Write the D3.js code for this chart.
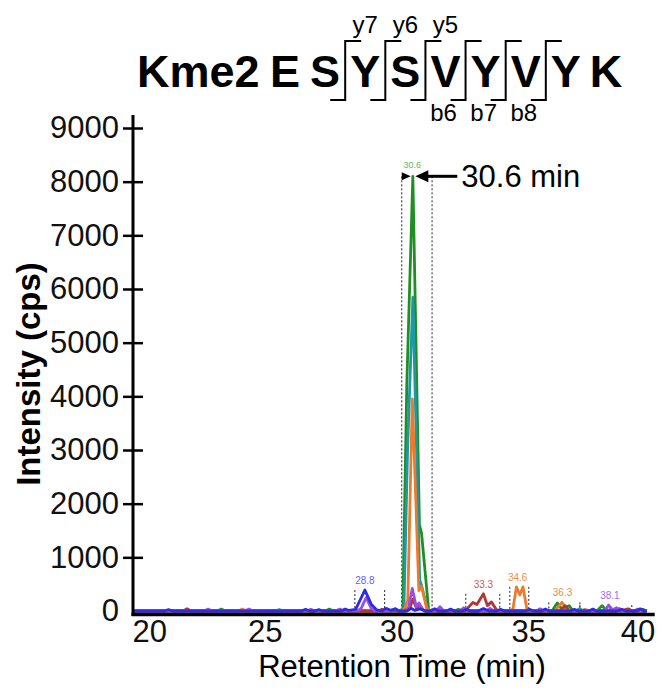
<!DOCTYPE html>
<html>
<head>
<meta charset="utf-8">
<script src="https://cdn.jsdelivr.net/npm/d3@7"></script>
<style>
  body { margin: 0; background: #fff; }
  svg { display: block; font-family: Arial, "Liberation Sans", sans-serif; }
</style>
</head>
<body>
<svg id="chart" width="672" height="693"></svg>
<script>
// peptide in the title, fragment ions marked between residues
const modLabel = "Kme2";
const residues = ["E", "S", "Y", "S", "V", "Y", "V", "Y", "K"];
const yIons = ["y7", "y6", "y5"];   // cleavages after residue 1,2,3
const bIons = ["b6", "b7", "b8"];   // cleavages after residue 4,5,6

const xTicks = [20, 25, 30, 35, 40];
const yTicks = [0, 1000, 2000, 3000, 4000, 5000, 6000, 7000, 8000, 9000];

// XIC traces: [retention time (min), intensity (cps)]
const traceGreen = [[20,0],[23.2,0],[23.35,35],[23.5,0],[27.3,0],[27.45,35],[27.6,0],[29.7,0],[29.85,25],[30.0,0],
  [30.1,0],[30.24,40],[30.39,4200],[30.62,8100],[30.87,1600],[30.95,1450],[31.22,20],[31.4,0],[32.2,0],[32.35,30],[32.5,0],
  [35.9,0],[36.1,150],[36.25,50],[36.4,60],[36.55,100],[36.7,0],[37.6,0],[37.8,100],[37.95,20],[38.1,0],[39.2,0],[39.35,30],[39.5,0]];
const traceTeal = [[20,0],[25.4,0],[25.55,25],[25.7,0],[30.1,0],[30.28,40],[30.42,3000],[30.62,5850],[30.88,580],[30.95,480],
  [31.18,20],[31.35,0],[36.8,0],[36.95,40],[37.1,0],[38.0,0],[38.15,40],[38.3,0],[39.5,0]];
const traceOrange = [[20,0],[24.0,0],[24.15,35],[24.3,0],[30.1,0],[30.3,30],[30.43,220],[30.6,3950],[30.85,380],[30.95,460],
  [31.15,40],[31.3,0],[34.3,0],[34.42,40],[34.55,450],[34.68,300],[34.8,450],[34.95,30],[35.1,0],[36.0,0],[36.28,160],[36.45,40],
  [36.6,0],[37.0,0],[37.15,30],[37.3,0],[38.6,0],[38.75,35],[38.9,0],[39.5,0]];
const traceBrown = [[20,0],[21.9,0],[22.05,40],[22.2,0],[29.3,0],[29.45,30],[29.6,0],[30.35,0],[30.5,50],[30.62,220],[30.75,60],
  [30.9,100],[31.05,0],[32.6,0],[32.75,80],[32.9,160],[33.05,120],[33.3,320],[33.45,100],[33.6,170],[33.8,20],[33.95,0],
  [36.2,0],[36.4,100],[36.55,0],[38.3,0],[38.45,45],[38.6,10],[38.8,40],[38.95,0],[39.5,0]];
const tracePurple = [[20,0],[22.7,0],[22.85,35],[23.0,0],[24.25,0],[24.4,35],[24.55,0],[26.6,0],[26.75,30],[26.9,0],[27.7,0],
  [27.85,35],[28.0,0],[28.5,0],[28.65,40],[28.85,250],[29.05,40],[29.2,0],[29.8,0],[29.95,40],[30.1,0],[30.3,0],[30.45,60],
  [30.6,420],[30.75,80],[30.85,150],[31.0,20],[31.15,0],[31.5,0],[31.65,80],[31.8,0],[32.4,0],[32.55,60],[32.7,0],[33.4,0],
  [33.55,50],[33.7,0],[35.3,0],[35.45,40],[35.6,0],[37.9,0],[38.05,110],[38.2,20],[38.35,60],[38.5,0],[39.0,0],[39.15,35],[39.3,0],[39.5,0]];
const traceBlue = [[20,0],[21.2,0],[21.35,25],[21.5,0],[26.4,0],[26.55,30],[26.7,0],[26.9,0],[27.05,25],[27.2,0],[27.9,0],
  [28.05,35],[28.2,10],[28.45,30],[28.8,390],[29.05,120],[29.25,20],[29.45,0],[29.6,50],[29.8,10],[29.95,40],[30.1,0],[30.4,0],
  [30.55,50],[30.7,10],[30.9,40],[31.1,0],[31.3,0],[31.45,40],[31.6,0],[31.9,0],[32.05,35],[32.2,0],[32.5,0],[32.65,30],[32.8,0],
  [33.1,0],[33.3,45],[33.5,0],[33.8,0],[33.95,30],[34.1,0],[34.9,0],[35.05,30],[35.2,0],[35.5,0],[35.65,35],[35.8,0],[36.6,0],
  [36.75,30],[36.9,0],[37.3,0],[37.45,35],[37.6,0],[38.4,0],[38.55,30],[38.7,0],[39.1,0],[39.25,40],[39.4,0],[39.5,0]];

// integrated peaks: apex label and window
const peakRT = [28.8, 30.6, 33.3, 34.6, 36.3, 38.1];
const peakStart = [28.42, 30.2, 32.63, 34.3, 35.78, 36.96];
const peakEnd = [29.55, 31.35, 33.92, 35.02, 36.96, 38.93];

const traces = [
  { data: traceGreen, color: "#1f8f24" },
  { data: traceTeal, color: "#1c98a6" },
  { data: traceOrange, color: "#ea7a2c" },
  { data: traceBrown, color: "#b23434" },
  { data: tracePurple, color: "#9a4ee2" },
  { data: traceBlue, color: "#2b2be8" }
];
const peakLabelColors = ["#6464f0", "#5cb85c", "#c46060", "#e8904a", "#e8904a", "#a070e8"];

const svg = d3.select("#chart");

const x = d3.scaleLinear().domain([20, 40]).range([133, 660]);
const xEnd = 39.8;  // axis line stops a little short of 40
const y = d3.scaleLinear().domain([0, 9000]).range([611, 128]);

// dashed integration windows + labels
const allPts = traces.flatMap(t => t.data);
peakRT.forEach((rt, i) => {
  const inWin = allPts.filter(p => p[0] >= peakStart[i] && p[0] <= peakEnd[i]);
  const top = d3.max(inWin, p => p[1]);
  [peakStart[i], peakEnd[i]].forEach(t => {
    svg.append("line")
      .attr("x1", x(t)).attr("x2", x(t))
      .attr("y1", y(top)).attr("y2", y(0) + 2)
      .attr("stroke", "#222").attr("stroke-width", 1)
      .attr("stroke-dasharray", "2,2");
  });
  svg.append("text")
    .attr("x", x(rt)).attr("y", y(top) - (i === 1 ? 8 : 6))
    .attr("text-anchor", "middle")
    .attr("font-size", i === 1 ? 9 : 10)
    .attr("fill", peakLabelColors[i])
    .text(rt.toFixed(1));
});

// traces
const line = d3.line().x(d => x(d[0])).y(d => y(d[1]));
traces.forEach(t => {
  svg.append("path")
    .datum(t.data)
    .attr("d", line)
    .attr("fill", "none")
    .attr("stroke", t.color)
    .attr("stroke-width", 2.8)
    .attr("stroke-linejoin", "round");
});

// axes
svg.append("line")
  .attr("x1", x(20)).attr("x2", x(20))
  .attr("y1", y(9240)).attr("y2", y(0) + 5)
  .attr("stroke", "#000").attr("stroke-width", 3);
svg.append("line")
  .attr("x1", x(20) - 1.5).attr("x2", x(xEnd))
  .attr("y1", y(0) + 3.5).attr("y2", y(0) + 3.5)
  .attr("stroke", "#000").attr("stroke-width", 3.5);

const yAxis = svg.append("g")
  .attr("transform", `translate(${x(20)},0)`)
  .call(d3.axisLeft(y).tickValues(yTicks).tickFormat(d3.format("d")).tickSize(10).tickPadding(4));
yAxis.select(".domain").remove();
yAxis.selectAll(".tick line")
  .attr("x2", d => d === 0 ? 0 : 10)
  .attr("x1", d => d === 0 ? 0 : -10)
  .attr("stroke-width", 2.5);
yAxis.selectAll(".tick text")
  .attr("font-size", 31)
  .attr("font-family", "Arial, 'Liberation Sans', sans-serif")
  .attr("fill", "#111");

const xAxis = svg.append("g")
  .attr("transform", `translate(0,${y(0) + 5})`)
  .call(d3.axisBottom(x).tickValues(xTicks).tickSize(0).tickPadding(4));
xAxis.select(".domain").remove();
xAxis.selectAll(".tick text")
  .attr("font-size", 31)
  .attr("font-family", "Arial, 'Liberation Sans', sans-serif")
  .attr("fill", "#111");
// end labels are pulled inside the axis span
xAxis.selectAll(".tick text")
  .filter(d => d === xTicks[0]).attr("text-anchor", "start").attr("x", -1);
xAxis.selectAll(".tick text")
  .filter(d => d === xTicks[xTicks.length - 1]).attr("text-anchor", "end").attr("x", x(xEnd) - x(40));

svg.append("text")
  .attr("x", 402).attr("y", 677)
  .attr("text-anchor", "middle")
  .attr("font-size", 31)
  .text("Retention Time (min)");

svg.append("text")
  .attr("transform", "translate(40,374) rotate(-90)")
  .attr("text-anchor", "middle")
  .attr("font-size", 33)
  .attr("font-weight", "bold")
  .text("Intensity (cps)");

// apex arrow annotation
const apexX = x(30.6), apexY = y(8100);
const wl = x(peakStart[1]);
svg.append("path")
  .attr("d", `M${wl},${apexY - 4}L${wl + 9},${apexY}L${wl},${apexY + 4}Z`)
  .attr("fill", "#000");
svg.append("line")
  .attr("x1", apexX + 14).attr("x2", apexX + 45)
  .attr("y1", apexY).attr("y2", apexY)
  .attr("stroke", "#000").attr("stroke-width", 3);
svg.append("path")
  .attr("d", `M${apexX + 3},${apexY}L${apexX + 16},${apexY - 6}L${apexX + 16},${apexY + 6}Z`)
  .attr("fill", "#000");
svg.append("text")
  .attr("x", apexX + 49).attr("y", apexY + 11)
  .attr("font-size", 31)
  .text("30.6 min");

// title: peptide with fragment brackets
const res = d3.scalePoint().domain(d3.range(residues.length)).range([285, 606]);
const title = svg.append("g");
title.append("text")
  .attr("x", 137).attr("y", 87)
  .attr("font-size", 45).attr("font-weight", "bold")
  .text(modLabel);
title.selectAll(".res")
  .data(residues)
  .enter().append("text")
  .attr("x", (d, i) => res(i)).attr("y", 87)
  .attr("text-anchor", "middle")
  .attr("font-size", 45).attr("font-weight", "bold")
  .text(d => d);

const cuts = d3.range(1, 7);
cuts.forEach(c => {
  const bx = (res(c) + res(c + 1)) / 2;
  title.append("path")
    .attr("d", `M${bx - 15},100H${bx}V41H${bx + 16}`)
    .attr("fill", "none").attr("stroke", "#000").attr("stroke-width", 2);
  if (c <= 3) {
    title.append("text")
      .attr("x", bx + 20).attr("y", 33)
      .attr("text-anchor", "middle").attr("font-size", 24)
      .text(yIons[c - 1]);
  } else {
    title.append("text")
      .attr("x", bx - 22).attr("y", 121)
      .attr("text-anchor", "middle").attr("font-size", 24)
      .text(bIons[c - 4]);
  }
});
</script>
</body>
</html>
